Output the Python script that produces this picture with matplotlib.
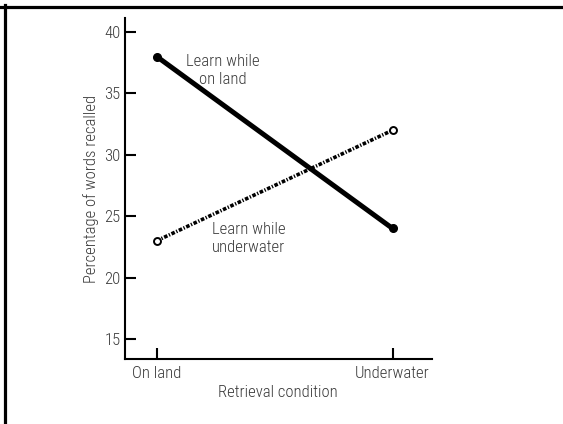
import matplotlib.pyplot as plt
from matplotlib.lines import Line2D

conditions = ["On land", "Underwater"]
learn_land = [38, 24]
learn_water = [23, 32]
yticks = [15, 20, 25, 30, 35, 40]

plt.rcParams['font.family'] = ['Roboto Condensed', 'DejaVu Sans']
plt.rcParams['font.weight'] = 'light'
plt.rcParams['axes.labelweight'] = 'light'
txt = "#3a3a3a"
fs = 12

fig = plt.figure(figsize=(5.63, 4.24), dpi=100)
# axes placed to match the reference pixel layout
ax = fig.add_axes([124.7/563, 1-359/424, (431.7-124.7)/563, (359-18)/424])

x = list(range(len(conditions)))
ax.plot(x, learn_land, color="black", linewidth=3.6, solid_capstyle="round",
        marker="o", markersize=5.5, markerfacecolor="black")
ax.plot(x, learn_water, color="black", linewidth=2.6, linestyle=(0, (1.0, 0.45, 0.35, 0.45)),
        zorder=2)
ax.plot(x, learn_water, linestyle="none", marker="o", markersize=5,
        markerfacecolor="white", markeredgecolor="black", markeredgewidth=1.4, zorder=3)

ax.set_xlim(-0.136, 1.166)
ax.set_ylim(13.37, 41.14)
ax.set_xticks(x)
ax.set_xticklabels(conditions)
ax.set_yticks(yticks)
ax.tick_params(axis="both", direction="in", length=8, width=1.5, colors="black",
               labelcolor=txt, labelsize=fs)
ax.tick_params(axis="y", pad=3)
ax.tick_params(axis="x", pad=5)
for s in ["top", "right"]:
    ax.spines[s].set_visible(False)
for s in ["left", "bottom"]:
    ax.spines[s].set_linewidth(1.5)

ax.set_xlabel("Retrieval condition", fontsize=fs, color=txt, labelpad=3)
ax.set_ylabel("Percentage of words recalled", fontsize=fs, color=txt, labelpad=4)

ax.text(0.28, 36.9, "Learn while\non land", ha="center", va="center",
        fontsize=fs, color=txt, linespacing=1.25)
ax.text(0.39, 23.18, "Learn while\nunderwater", ha="center", va="center",
        fontsize=fs, color=txt, linespacing=1.25)

# frame lines along top and left edge
fig.add_artist(Line2D([0, 1], [1-6.5/424, 1-6.5/424], color="black", linewidth=2.3,
                      transform=fig.transFigure))
fig.add_artist(Line2D([4.5/563, 4.5/563], [0, 1-5/424], color="black", linewidth=2.3,
                      transform=fig.transFigure))

fig.savefig("out.png", dpi=100, facecolor="white")
